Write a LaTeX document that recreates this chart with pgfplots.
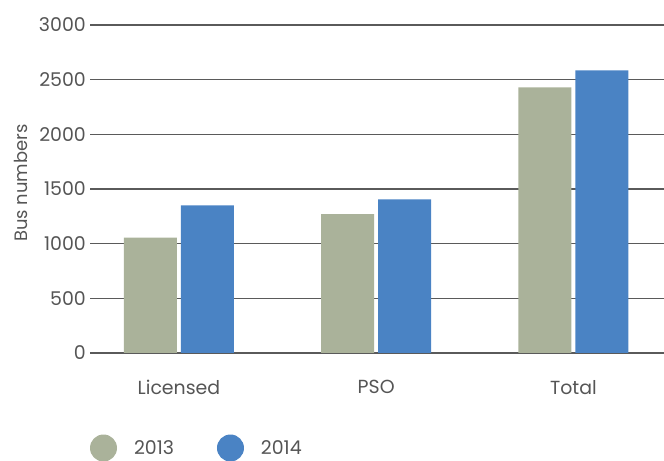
\documentclass[border=0pt]{standalone}
\usepackage{pgfplots}
\pgfplotsset{compat=1.18}
\usepackage{fontspec}
\setmainfont{Poppins}
\definecolor{cA}{RGB}{170,178,154}
\definecolor{cB}{RGB}{74,131,196}
\definecolor{txt}{RGB}{85,85,85}
\definecolor{grd}{RGB}{90,90,90}
\begin{document}
\begin{tikzpicture}
\begin{axis}[
  at={(90bp,108bp)}, anchor=south west,
  scale only axis, width=574bp, height=328bp,
  xmin=-0.451, xmax=2.459, ymin=0, ymax=3000,
  xtick={0,1,2}, xticklabels={Licensed,PSO,Total},
  ytick={0,500,...,3000},
  major tick length=0pt,
  axis line style={draw=none},
  ymajorgrids, grid style={draw=grd, line width=1.3bp},
  /pgf/number format/assume math mode=true,
  /pgf/number format/1000 sep={},
  tick label style={font=\fontsize{19}{22}\selectfont, text=txt},
  yticklabel style={inner sep=0pt, xshift=-4bp},
  xticklabel style={inner sep=0pt, yshift=-27bp},
  ylabel={Bus numbers},
  ylabel style={font=\fontsize{18}{21}\selectfont, text=txt, at={(axis description cs:-0.1202,0.518)}, anchor=center},
  legend columns=2,
  legend style={draw=none, fill=none, inner sep=0pt, outer sep=0pt,
    at={(axis description cs:0,0)}, anchor=west, yshift=-95bp,
    font=\fontsize{19}{22}\selectfont, text=txt,
    /tikz/every even column/.append style={column sep=43bp},
    nodes={inner sep=0pt, outer sep=0pt}},
  legend cell align=left,
  legend image code/.code={\fill[#1,draw=none] (13.5bp,0) circle (13.5bp); \path (44bp,0);},
]
\addplot[ybar, fill=cA, draw=none, bar width=53bp, bar shift=-28.5bp] coordinates {(0,1055) (1,1270) (2,2430)};
\addplot[ybar, fill=cB, draw=none, bar width=53bp, bar shift=28.5bp] coordinates {(0,1350) (1,1405) (2,2585)};
\legend{2013,2014}
\end{axis}
\pgfresetboundingbox
\useasboundingbox (0,0) rectangle (664bp,461bp);
\end{tikzpicture}
\end{document}
